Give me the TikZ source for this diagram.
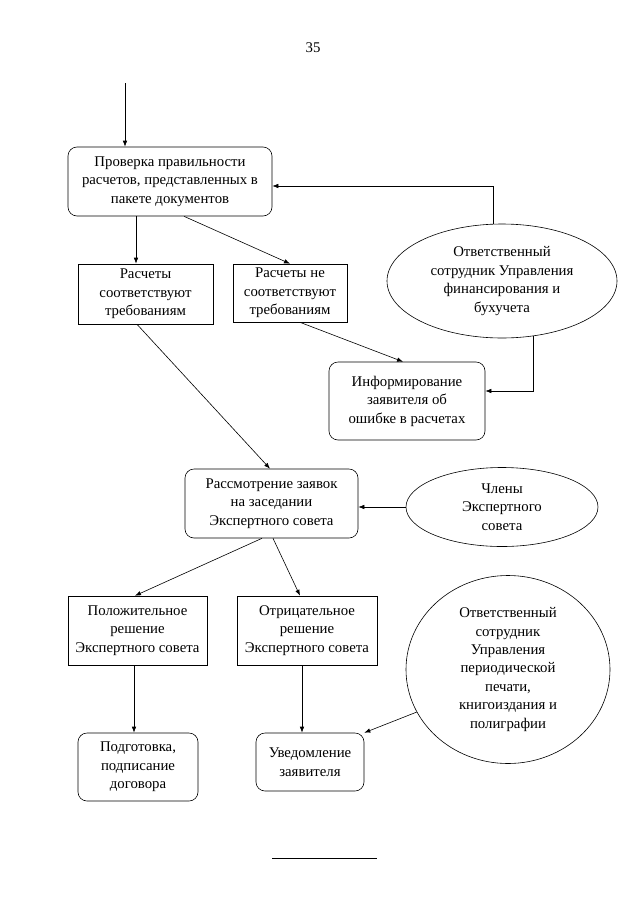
\documentclass[tikz,border=0pt]{standalone}
\usepackage{fontspec}
\setmainfont{Liberation Serif}
\usetikzlibrary{shapes.geometric,arrows.meta}
\begin{document}
\begin{tikzpicture}[x=1pt,y=-1pt,
  every node/.style={font=\fontsize{14.8}{18.5}\selectfont, align=center, inner sep=0pt},
  rbox/.style={draw, rounded corners=9pt, line width=0.6pt},
  sbox/.style={draw, line width=0.6pt},
  ell/.style={draw, ellipse, line width=0.6pt},
  arr/.style={-{Latex[length=6pt,width=4.5pt]}, line width=0.6pt}]
\useasboundingbox (0,0) rectangle (640,905);

\node (pg) at (313,48) {35};

\node[rbox, minimum width=204pt, minimum height=69pt] (b1) at (170,181.5)
  {Проверка правильности\\расчетов, представленных в\\пакете документов};
\node[sbox, minimum width=135pt, minimum height=60pt] (b2) at (145.5,294)
  {Расчеты\\соответствуют\\требованиям};
\node[sbox, minimum width=114pt, minimum height=58pt] (b3) at (290,293)
  {Расчеты не\\соответствуют\\требованиям};
\node[ell, minimum width=230pt, minimum height=114pt] (e1) at (502,281)
  {Ответственный\\сотрудник Управления\\финансирования и\\бухучета};
\node[rbox, minimum width=156pt, minimum height=78pt] (b4) at (407,401)
  {Информирование\\заявителя об\\ошибке в расчетах};
\node[rbox, minimum width=173pt, minimum height=69pt] (b5) at (271.5,503.5)
  {Рассмотрение заявок\\на заседании\\Экспертного совета};
\node[ell, minimum width=192pt, minimum height=79pt] (e2) at (502,507)
  {Члены\\Экспертного\\совета};
\node[sbox, minimum width=139pt, minimum height=69pt] (b6) at (137.5,630.5)
  {Положительное\\решение\\Экспертного совета};
\node[sbox, minimum width=140pt, minimum height=69pt] (b7) at (307,630.5)
  {Отрицательное\\решение\\Экспертного совета};
\node[ell, minimum width=204pt, minimum height=188pt] (e3) at (508,669.5)
  {Ответственный\\сотрудник\\Управления\\периодической\\печати,\\книгоиздания и\\полиграфии};
\node[rbox, minimum width=120pt, minimum height=68pt] (b8) at (138,767)
  {Подготовка,\\подписание\\договора};
\node[rbox, minimum width=108pt, minimum height=58pt] (b9) at (310,762)
  {Уведомление\\заявителя};

\coordinate (in) at (125,83);
\draw[arr] (in) -- (in |- b1.north);
\draw[arr] ([xshift=-34pt]b1.south) -- ([xshift=-9.5pt]b2.north);
\draw[arr] ([xshift=14pt]b1.south) -- (b3.north);
\draw[arr] ([xshift=-9pt]e1.north) |- ([yshift=-4.5pt]b1.east);
\draw[arr] ([xshift=10pt]b3.south) -- ([xshift=-4pt]b4.north);
\draw[arr] ([xshift=31pt,yshift=2pt]e1.south) |- ([yshift=10pt]b4.east);
\draw[arr] ([xshift=-8.5pt]b2.south) -- ([xshift=-1.5pt]b5.north);
\draw[arr] (e2.west) -- (b5.east |- e2.west);
\draw[arr] ([xshift=-9.5pt]b5.south) -- ([xshift=-2.5pt]b6.north);
\draw[arr] ([xshift=1.5pt]b5.south) -- ([xshift=-7pt]b7.north);
\draw[arr] ([xshift=-3.5pt]b6.south) -- ([xshift=-3.5pt]b6.south |- b8.north);
\draw[arr] ([xshift=-5pt]b7.south) -- ([xshift=-5pt]b7.south |- b9.north);
\draw[arr] (e3.205) -- (b9.north east);

\coordinate (l1) at (272,858);
\coordinate (l2) at (377,858);
\draw[line width=0.8pt] (l1) -- (l2);
\end{tikzpicture}
\end{document}
